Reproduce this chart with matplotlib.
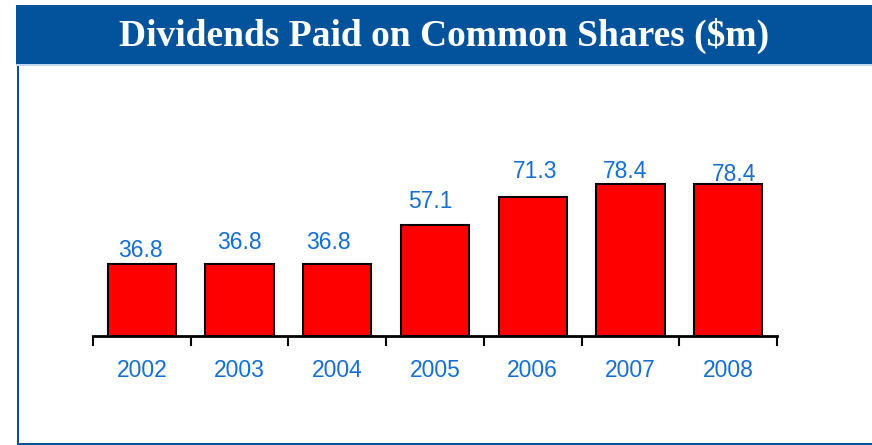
import matplotlib
matplotlib.use("Agg")
import matplotlib.pyplot as plt
from matplotlib.patches import Rectangle

years = ["2002", "2003", "2004", "2005", "2006", "2007", "2008"]
dividends = [36.8, 36.8, 36.8, 57.1, 71.3, 78.4, 78.4]
title = "Dividends Paid on Common Shares ($m)"

# label offsets (pixels) relative to bar top centre, to mimic the original placement
label_dx = [-1, 0, -9, -5, 2, -5, 6]
label_dy = [14, 22, 22, 23, 26, 12, 9]

W, H = 872, 445
DPI = 100
fig = plt.figure(figsize=(W / DPI, H / DPI), dpi=DPI)
fig.patch.set_facecolor("white")

blue_dark = "#02539B"
text_blue = "#166ED2"

# title bar
fig.add_artist(Rectangle((16 / W, 1 - 64 / H), 1 - 16 / W, 59 / H,
                         transform=fig.transFigure, facecolor=blue_dark,
                         edgecolor="none", zorder=1))
fig.add_artist(Rectangle((16 / W, 1 - 66 / H), 1 - 16 / W, 2 / H,
                         transform=fig.transFigure, facecolor="#BFD6EE",
                         edgecolor="none", zorder=1))
fig.text(444 / W, 1 - 36 / H, title, color="white", fontsize=27,
         fontweight="bold", family="Liberation Serif", ha="center",
         va="center")
# frame lines (left and bottom)
fig.add_artist(Rectangle((17 / W, 0), 2 / W, 1 - 66 / H,
                         transform=fig.transFigure, facecolor=blue_dark,
                         edgecolor="none"))
fig.add_artist(Rectangle((17 / W, 0), 1 - 17 / W, 2 / H,
                         transform=fig.transFigure, facecolor=blue_dark,
                         edgecolor="none"))

# axes
ymax = 90
px_per_unit = 1.94
ax_left = 93 / W
ax_width = 684 / W
ax_bottom = (H - 335.7) / H
ax_height = ymax * px_per_unit / H
ax = fig.add_axes([ax_left, ax_bottom, ax_width, ax_height])
ax.set_facecolor("none")

x = list(range(len(years)))
ax.bar(x, dividends, width=0.7, color="#FF0000", edgecolor="black",
       linewidth=1.5, zorder=2)

ax.set_xlim(-0.5, len(years) - 0.5)
ax.set_ylim(0, ymax)
for s in ["top", "right", "left"]:
    ax.spines[s].set_visible(False)
ax.spines["bottom"].set_linewidth(2)
ax.spines["bottom"].set_color("black")
ax.set_yticks([])

ax.set_xticks(x)
ax.set_xticklabels(years, color=text_blue, fontsize=16.5,
                   family="Liberation Sans")
ax.tick_params(axis="x", which="major", length=0, pad=17)
ax.set_xticks([i - 0.5 for i in range(len(years) + 1)], minor=True)
ax.tick_params(axis="x", which="minor", length=7, width=1.5, color="black",
               direction="out")

pt_per_px = 72 / DPI
for i, v in enumerate(dividends):
    ax.annotate(f"{v:.1f}", (i, v),
                xytext=(label_dx[i] * pt_per_px, label_dy[i] * pt_per_px),
                textcoords="offset points", ha="center", va="center",
                color=text_blue, fontsize=16.5, family="Liberation Sans",
                annotation_clip=False)

fig.savefig("out.png", dpi=DPI)
